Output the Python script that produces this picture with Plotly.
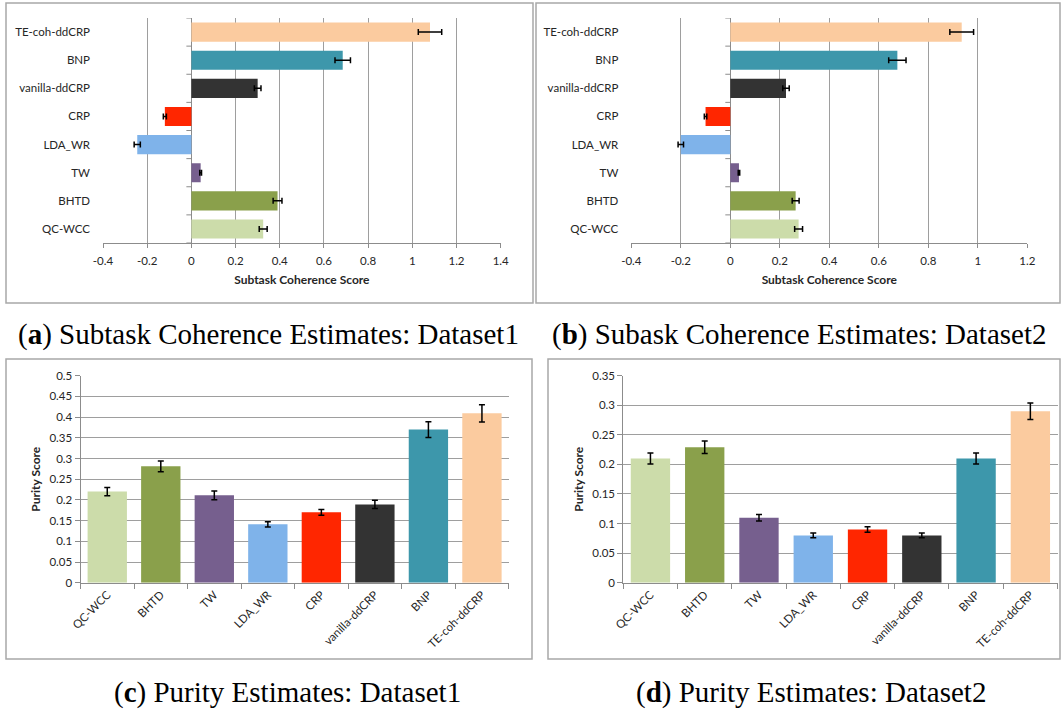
import plotly.graph_objects as go

# Methods in the order used by all four charts
methods = ["QC-WCC", "BHTD", "TW", "LDA_WR", "CRP", "vanilla-ddCRP", "BNP", "TE-coh-ddCRP"]
bar_colors = ["#ccdcaa", "#8aa04b", "#765f8e", "#7fb3ea", "#ff2600", "#333333", "#3d97ab", "#fbcb9f"]

# Subtask coherence (horizontal bars) with error half-widths
coh_d1 = [0.325, 0.39, 0.042, -0.245, -0.12, 0.30, 0.685, 1.08]
coh_d1_err = [0.018, 0.02, 0.004, 0.014, 0.007, 0.015, 0.035, 0.053]
coh_d2 = [0.276, 0.264, 0.035, -0.20, -0.10, 0.225, 0.675, 0.935]
coh_d2_err = [0.016, 0.014, 0.003, 0.011, 0.005, 0.013, 0.035, 0.048]

# Purity (vertical bars) with error half-widths
pur_d1 = [0.22, 0.281, 0.211, 0.141, 0.170, 0.189, 0.370, 0.409]
pur_d1_err = [0.01, 0.013, 0.0105, 0.0065, 0.007, 0.01, 0.019, 0.021]
pur_d2 = [0.21, 0.229, 0.11, 0.08, 0.09, 0.08, 0.21, 0.29]
pur_d2_err = [0.0095, 0.0105, 0.0055, 0.004, 0.0045, 0.004, 0.0095, 0.014]

# Tick values and labels
coh_d1_ticks = [-0.4, -0.2, 0, 0.2, 0.4, 0.6, 0.8, 1, 1.2, 1.4]
coh_d1_ticktext = ["-0.4", "-0.2", "0", "0.2", "0.4", "0.6", "0.8", "1", "1.2", "1.4"]
coh_d2_ticks = [-0.4, -0.2, 0, 0.2, 0.4, 0.6, 0.8, 1, 1.2]
coh_d2_ticktext = ["-0.4", "-0.2", "0", "0.2", "0.4", "0.6", "0.8", "1", "1.2"]
pur_d1_ticks = [0, 0.05, 0.1, 0.15, 0.2, 0.25, 0.3, 0.35, 0.4, 0.45, 0.5]
pur_d1_ticktext = ["0", "0.05", "0.1", "0.15", "0.2", "0.25", "0.3", "0.35", "0.4", "0.45", "0.5"]
pur_d2_ticks = [0, 0.05, 0.1, 0.15, 0.2, 0.25, 0.3, 0.35]
pur_d2_ticktext = ["0", "0.05", "0.1", "0.15", "0.2", "0.25", "0.3", "0.35"]

captions = [
    "(<b>a</b>) Subtask Coherence Estimates: Dataset1",
    "(<b>b</b>) Subask Coherence Estimates: Dataset2",
    "(<b>c</b>) Purity Estimates: Dataset1",
    "(<b>d</b>) Purity Estimates: Dataset2",
]

W, H = 1063, 713
FONT = "Lato"
TXT = "#262626"
GRID = "#9e9e9e"
AXLINE = "#8c8c8c"


def px(x):
    return x / W


def py(y):
    return 1 - y / H


fig = go.Figure()

err_style = dict(type="data", color="black", thickness=1.5, width=3)

fig.add_trace(go.Bar(x=coh_d1, y=methods, orientation="h", marker=dict(color=bar_colors, line=dict(width=0)),
                     width=0.68, error_x=dict(array=coh_d1_err, **err_style), xaxis="x", yaxis="y",
                     showlegend=False))
fig.add_trace(go.Bar(x=coh_d2, y=methods, orientation="h", marker=dict(color=bar_colors, line=dict(width=0)),
                     width=0.68, error_x=dict(array=coh_d2_err, **err_style), xaxis="x2", yaxis="y2",
                     showlegend=False))
fig.add_trace(go.Bar(x=methods, y=pur_d1, marker=dict(color=bar_colors, line=dict(width=0)),
                     width=0.735, error_y=dict(array=pur_d1_err, **err_style), xaxis="x3", yaxis="y3",
                     showlegend=False))
fig.add_trace(go.Bar(x=methods, y=pur_d2, marker=dict(color=bar_colors, line=dict(width=0)),
                     width=0.725, error_y=dict(array=pur_d2_err, **err_style), xaxis="x4", yaxis="y4",
                     showlegend=False))

tickfont = dict(family=FONT, size=11.5, color=TXT)
titlefont = dict(family=FONT, size=12, color=TXT, weight="bold")


def hbar_xaxis(domain, anchor, ticks, ticktext):
    return dict(domain=domain, anchor=anchor, range=[ticks[0], ticks[-1]], tickvals=ticks, ticktext=ticktext,
                showgrid=True, gridcolor=GRID, gridwidth=1, zeroline=True, zerolinecolor=AXLINE,
                zerolinewidth=1, showline=True, linecolor=AXLINE, linewidth=1, ticks="outside",
                ticklen=4, tickcolor=AXLINE, tickfont=tickfont, automargin=False, ticklabelstandoff=3,
                title=dict(text="Subtask Coherence Score", font=titlefont, standoff=9))


def hbar_yaxis(domain, anchor):
    return dict(domain=domain, anchor=anchor, type="category", categoryorder="array",
                categoryarray=methods, range=[-0.5, len(methods) - 0.5], showgrid=False,
                zeroline=False, showline=False, ticks="", ticklabelstandoff=12, tickfont=tickfont,
                automargin=False)


def vbar_xaxis(domain, anchor):
    return dict(domain=domain, anchor=anchor, type="category", categoryorder="array",
                categoryarray=methods, range=[-0.5, len(methods) - 0.5], tickson="boundaries",
                ticks="outside", ticklen=5, tickcolor=AXLINE, showline=True, linecolor=AXLINE,
                linewidth=1, showgrid=False, tickangle=-45, tickfont=tickfont, automargin=False)


def vbar_yaxis(domain, anchor, ticks, ticktext):
    return dict(domain=domain, anchor=anchor, range=[ticks[0], ticks[-1]], tickvals=ticks,
                ticktext=ticktext, showgrid=True, gridcolor=GRID, gridwidth=1, zeroline=False,
                showline=True, linecolor=AXLINE, linewidth=1, ticks="outside", ticklen=5,
                tickcolor=AXLINE, tickfont=tickfont, automargin=False,
                title=dict(text="Purity Score", font=titlefont, standoff=6))


top_y = [py(243), py(18)]
bot_y = [py(582.7), py(375.7)]

fig.update_layout(
    width=W, height=H, margin=dict(l=0, r=0, t=0, b=0, autoexpand=False),
    paper_bgcolor="white", plot_bgcolor="white",
    barmode="overlay",
    xaxis=hbar_xaxis([px(103), px(500.7)], "y", coh_d1_ticks, coh_d1_ticktext),
    yaxis=hbar_yaxis(top_y, "x"),
    xaxis2=hbar_xaxis([px(631.3), px(1027.3)], "y2", coh_d2_ticks, coh_d2_ticktext),
    yaxis2=hbar_yaxis(top_y, "x2"),
    xaxis3=vbar_xaxis([px(80.5), px(508.7)], "y3"),
    yaxis3=vbar_yaxis(bot_y, "x3", pur_d1_ticks, pur_d1_ticktext),
    xaxis4=vbar_xaxis([px(623.3), px(1057.5)], "y4"),
    yaxis4=vbar_yaxis(bot_y, "x4", pur_d2_ticks, pur_d2_ticktext),
)

shapes = []
# category tick marks along the zero line of the horizontal bar charts
for xr, yr in (("x", "y"), ("x2", "y2")):
    for k in range(len(methods) + 1):
        shapes.append(dict(type="line", xref=xr, yref=yr, xsizemode="pixel", xanchor=0, x0=-5, x1=0,
                           y0=k - 0.5, y1=k - 0.5, line=dict(color=AXLINE, width=1)))

# panel frames
for x0, y0, x1, y1 in ((6, 3, 533, 303), (536, 3, 1060, 303), (6, 359, 532, 659), (548, 359, 1060, 659)):
    shapes.append(dict(type="rect", xref="paper", yref="paper", x0=px(x0), x1=px(x1), y0=py(y1), y1=py(y0),
                       line=dict(color="#a8a8a8", width=1.5), fillcolor="rgba(0,0,0,0)", layer="below"))
fig.update_layout(shapes=shapes)

annotations = []
for text, cx, cy in zip(captions, (268, 799, 287, 811), (335, 335, 692, 692)):
    annotations.append(dict(text=text, xref="paper", yref="paper", x=px(cx), y=py(cy), showarrow=False,
                            xanchor="center", yanchor="middle",
                            font=dict(family="Liberation Serif", size=29, color="black")))
fig.update_layout(annotations=annotations)

fig.write_html("out.html")
